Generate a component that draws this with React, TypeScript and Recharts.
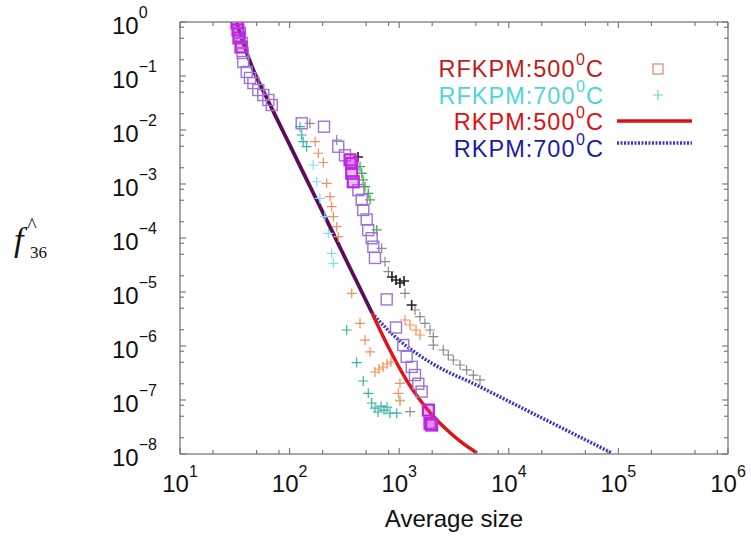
import React from 'react';
import { ComposedChart, Line, Scatter, XAxis, YAxis, Customized } from 'recharts';

const W = 751;
const H = 537;
const PLOT = { left: 180, top: 22, right: 728, bottom: 454 };
const FONT = '"Liberation Sans", Arial, Helvetica, sans-serif';
const SERIF = '"Liberation Serif", "DejaVu Serif", "Times New Roman", serif';

// Axis ticks
const xMajorTicks = [10, 100, 1000, 10000, 100000, 1000000];
const xTickExponents = ['1', '2', '3', '4', '5', '6'];
const yMajorTicks = [1e-8, 1e-7, 1e-6, 1e-5, 1e-4, 1e-3, 1e-2, 1e-1, 1];
const yTickExponents = ['\u22128', '\u22127', '\u22126', '\u22125', '\u22124', '\u22123', '\u22122', '\u22121', '0'];
const minorMultipliers = [2, 5, 8];

// Legend labels
const legendLabels = ['RFKPM:500', 'RFKPM:700', 'RKPM:500', 'RKPM:700'];
const degreeSup = '0';
const degreeUnit = 'C';
const xLabel = 'Average size';

// RKPM curves (500 and 700 coincide at small sizes)
const rkpmShared = [
  { x: 32.9, y: 0.97 }, { x: 37.8, y: 0.404 }, { x: 46.7, y: 0.129 }, { x: 61.2, y: 0.0408 },
  { x: 87.8, y: 0.00918 }, { x: 125.8, y: 0.00206 }, { x: 178.6, y: 4.84e-4 }, { x: 253.7, y: 1.14e-4 },
  { x: 359.5, y: 2.67e-5 }, { x: 456, y: 1.0e-5 }, { x: 565.8, y: 4.08e-6 },
];
const rkpm500Tail = [
  { x: 565.8, y: 4.08e-6 }, { x: 668, y: 1.98e-6 }, { x: 878, y: 6.53e-7 }, { x: 1178, y: 2.25e-7 },
  { x: 1548, y: 1.0e-7 }, { x: 2034, y: 5.06e-8 }, { x: 2673, y: 2.9e-8 }, { x: 3664, y: 1.67e-8 },
  { x: 5128, y: 1.04e-8 },
];
const rkpm700Tail = [
  { x: 565.8, y: 4.08e-6 }, { x: 758, y: 2.15e-6 }, { x: 1017, y: 1.24e-6 }, { x: 1423, y: 7.42e-7 },
  { x: 2034, y: 4.64e-7 }, { x: 2907, y: 3.16e-7 }, { x: 4426, y: 2.16e-7 }, { x: 8313, y: 1.14e-7 },
  { x: 19270, y: 4.84e-8 }, { x: 44630, y: 2.06e-8 }, { x: 87430, y: 1.04e-8 },
];

// RFKPM scatter data
const purpleSquares = [
  { x: 35.3, y: 0.626 }, { x: 36.6, y: 0.408 }, { x: 37.3, y: 0.267 }, { x: 37.8, y: 0.182 },
  { x: 40.6, y: 0.119 }, { x: 43.5, y: 0.092 }, { x: 46.7, y: 0.074 }, { x: 51.8, y: 0.055 },
  { x: 57.5, y: 0.0445 }, { x: 64.0, y: 0.036 }, { x: 68.7, y: 0.029 },
  { x: 129, y: 0.0133 }, { x: 206, y: 0.0115 }, { x: 278, y: 0.0049 }, { x: 320, y: 0.0034 },
  { x: 424, y: 7.7e-4 }, { x: 455, y: 5.1e-4 }, { x: 470, y: 3.3e-4 }, { x: 505, y: 2.2e-4 },
  { x: 522, y: 1.4e-4 }, { x: 561, y: 9.9e-5 }, { x: 581, y: 6.9e-5 }, { x: 601, y: 4.27e-5 },
  { x: 769, y: 7.3e-6 }, { x: 935, y: 2.2e-6 }, { x: 1089, y: 1.04e-6 }, { x: 1170, y: 6.3e-7 },
  { x: 1300, y: 4.1e-7 }, { x: 1393, y: 2.9e-7 }, { x: 1494, y: 2.0e-7 }, { x: 1603, y: 1.43e-7 },
];
const magentaSquares = [
  { x: 33.1, y: 0.957 }, { x: 33.8, y: 0.711 }, { x: 34.5, y: 0.506 }, { x: 36.0, y: 0.344 },
  { x: 356, y: 2.8e-3 }, { x: 369, y: 2.4e-3 }, { x: 369, y: 1.58e-3 }, { x: 381, y: 1.1e-3 },
  { x: 1845, y: 6.5e-8 }, { x: 1910, y: 3.7e-8 }, { x: 1980, y: 3.44e-8 },
];
const tealCrosses = [
  { x: 124.5, y: 0.0115 }, { x: 129, y: 0.00808 }, { x: 133, y: 0.00607 }, { x: 143, y: 0.00491 },
  { x: 332, y: 1.98e-6 }, { x: 409, y: 4.94e-7 }, { x: 470, y: 2.25e-7 }, { x: 522, y: 1.33e-7 },
  { x: 561, y: 8.8e-8 }, { x: 601, y: 7.1e-8 }, { x: 641, y: 6.0e-8 }, { x: 682, y: 7.7e-8 },
  { x: 727, y: 6.5e-8 }, { x: 774, y: 7.4e-8 }, { x: 824, y: 5.7e-8 }, { x: 949, y: 5.7e-8 },
];
const cyanCrosses = [
  { x: 164, y: 0.00225 }, { x: 177, y: 0.0011 }, { x: 189, y: 5.43e-4 }, { x: 210, y: 2.48e-4 },
  { x: 226, y: 1.22e-4 }, { x: 242, y: 5.21e-5 }, { x: 251, y: 3.4e-5 }, { x: 1016, y: 1.0e-7 },
];
const orangeCrosses = [
  { x: 171, y: 0.00607 }, { x: 183, y: 0.00371 }, { x: 203, y: 0.0025 }, { x: 218, y: 0.00103 },
  { x: 234, y: 5.82e-4 }, { x: 242, y: 3.8e-4 }, { x: 251, y: 2.48e-4 }, { x: 269, y: 1.62e-4 },
  { x: 278, y: 1.06e-4 }, { x: 369, y: 9.46e-6 }, { x: 439, y: 2.63e-6 }, { x: 488, y: 1.29e-6 },
  { x: 542, y: 7.8e-7 }, { x: 601, y: 3.3e-7 }, { x: 654, y: 3.75e-7 }, { x: 711, y: 4.08e-7 },
  { x: 774, y: 4.64e-7 }, { x: 841, y: 5.06e-7 }, { x: 982, y: 1.33e-7 }, { x: 1016, y: 2.04e-7 },
  { x: 1016, y: 9.6e-8 }, { x: 1130, y: 3.03e-6 }, { x: 1256, y: 2.45e-6 }, { x: 1423, y: 1.98e-6 },
  { x: 1549, y: 1.6e-6 },
];
const grayCrosses = [
  { x: 153, y: 0.0133 }, { x: 269, y: 0.00653 }, { x: 692, y: 6.45e-5 }, { x: 742, y: 3.64e-5 },
  { x: 796, y: 2.38e-5 }, { x: 1130, y: 9.46e-6 }, { x: 1393, y: 4.64e-6 }, { x: 1549, y: 3.49e-6 },
  { x: 1718, y: 2.63e-6 }, { x: 1910, y: 1.98e-6 }, { x: 2046, y: 1.49e-6 }, { x: 2046, y: 1.04e-6 },
  { x: 2525, y: 8.43e-7 }, { x: 2805, y: 6.81e-7 }, { x: 3118, y: 5.5e-7 }, { x: 3589, y: 4.45e-7 },
  { x: 4130, y: 3.6e-7 }, { x: 4745, y: 2.9e-7 }, { x: 5458, y: 2.35e-7 }, { x: 1256, y: 6.07e-8 },
];
const blackCrosses = [
  { x: 421, y: 0.00316 }, { x: 859, y: 1.9e-5 }, { x: 935, y: 1.67e-5 }, { x: 1016, y: 1.47e-5 },
  { x: 1107, y: 1.6e-5 }, { x: 1300, y: 5.74e-6 },
];
const greenCrosses = [
  { x: 439, y: 0.00209 }, { x: 455, y: 0.00158 }, { x: 468, y: 0.00119 }, { x: 488, y: 8.9e-4 },
  { x: 522, y: 6.7e-4 }, { x: 542, y: 5.1e-4 }, { x: 624, y: 1.41e-4 },
];

const withMinors = (majors: number[]) => {
  const out: number[] = [...majors];
  for (let i = 0; i < majors.length - 1; i++) {
    for (const m of minorMultipliers) out.push(m * majors[i]);
  }
  return out.sort((a, b) => a - b);
};
const xTicks = withMinors(xMajorTicks);
const yTicks = withMinors(yMajorTicks);

const isMajor = (list: number[], v: number) => list.findIndex((m) => Math.abs(v / m - 1) < 1e-6);

const TICK_COLOR = '#7a7a7a';

const XTickBottom = (props: any) => {
  const { x, payload } = props;
  const idx = isMajor(xMajorTicks, payload.value);
  const len = idx >= 0 ? 6 : 4;
  return (
    <g>
      <line x1={x} x2={x} y1={PLOT.bottom} y2={PLOT.bottom - len} stroke={TICK_COLOR} strokeWidth={1.2} />
      {idx >= 0 && (
        <text x={x} y={PLOT.bottom + 38} textAnchor="middle" fontFamily={FONT} fontSize={24} fill="#111">
          10<tspan dy={-15} fontSize={16}>{xTickExponents[idx]}</tspan>
        </text>
      )}
    </g>
  );
};
const XTickTop = (props: any) => {
  const { x, payload } = props;
  const idx = isMajor(xMajorTicks, payload.value);
  const len = idx >= 0 ? 6 : 4;
  return <line x1={x} x2={x} y1={PLOT.top} y2={PLOT.top + len} stroke={TICK_COLOR} strokeWidth={1.2} />;
};
const YTickLeft = (props: any) => {
  const { y, payload } = props;
  const idx = isMajor(yMajorTicks, payload.value);
  const len = idx >= 0 ? 6 : 4;
  return (
    <g>
      <line x1={PLOT.left} x2={PLOT.left + len} y1={y} y2={y} stroke={TICK_COLOR} strokeWidth={1.2} />
      {idx >= 0 && (
        <text x={112} y={y + 12} textAnchor="start" fontFamily={FONT} fontSize={24} fill="#111">
          10<tspan dy={-16} fontSize={16}>{yTickExponents[idx]}</tspan>
        </text>
      )}
    </g>
  );
};
const YTickRight = (props: any) => {
  const { y, payload } = props;
  const idx = isMajor(yMajorTicks, payload.value);
  const len = idx >= 0 ? 6 : 4;
  return <line x1={PLOT.right} x2={PLOT.right - len} y1={y} y2={y} stroke={TICK_COLOR} strokeWidth={1.2} />;
};

const squareShape = (stroke: string, sw: number, fill: string) => (p: any) => (
  <rect x={p.cx - 5.5} y={p.cy - 5.5} width={11} height={11} fill={fill} stroke={stroke} strokeWidth={sw} />
);
const crossShape = (stroke: string, sw: number) => (p: any) => (
  <path d={`M${p.cx - 5},${p.cy}h10M${p.cx},${p.cy - 5}v10`} stroke={stroke} strokeWidth={sw} fill="none" />
);

const Decorations = () => {
  const rowY = [77, 103.5, 130, 156.5];
  const colors = ['#c41a1a', '#4fd6d6', '#e01010', '#1a1aa8'];
  const endX = 603;
  const unitW = 17.5; // width of "C" at 23.5px
  const supW = 10; // width of superscript at 17px
  return (
    <g>
      {/* y label */}
      <text x={14} y={251} fontFamily={SERIF} fontStyle="italic" fontSize={34} fill="#111">f</text>
      <text x={32} y={232} textAnchor="middle" fontFamily={SERIF} fontSize={20} fill="#111">^</text>
      <text x={30} y={258} fontFamily={SERIF} fontSize={17} fill="#111">36</text>
      {/* x label */}
      <text x={(PLOT.left + PLOT.right) / 2} y={527} textAnchor="middle" fontFamily={FONT} fontSize={24} fill="#111">
        {xLabel}
      </text>
      {/* legend */}
      {legendLabels.map((lab, i) => (
        <g key={lab}>
          <text x={endX - unitW - supW} y={rowY[i]} textAnchor="end" fontFamily={FONT} fontSize={23.5} letterSpacing={1} fill={colors[i]}>
            {lab}
          </text>
          <text x={endX - unitW - 0.5} y={rowY[i] - 12} textAnchor="end" fontFamily={FONT} fontSize={16} fill={colors[i]}>
            {degreeSup}
          </text>
          <text x={endX} y={rowY[i]} textAnchor="end" fontFamily={FONT} fontSize={23.5} fill={colors[i]}>
            {degreeUnit}
          </text>
        </g>
      ))}
      <rect x={653} y={64} width={10} height={10} fill="none" stroke="#d48a6c" strokeWidth={1.2} />
      <path d="M653,95h10M658,90v10" stroke="#5fdcdc" strokeWidth={1.2} />
      <line x1={617} x2={692} y1={121} y2={121} stroke="#e01010" strokeWidth={3.5} />
      <line x1={617} x2={692} y1={143} y2={143} stroke="#3a3ac0" strokeWidth={3.5} strokeDasharray="2 1.5" />
    </g>
  );
};

export default function App() {
  return (
    <div style={{ position: 'absolute', left: 0, top: 0, width: W, height: H, background: '#fff' }}>
      <ComposedChart width={W} height={H} margin={{ top: 0, right: 0, bottom: 0, left: 0 }}>
        <XAxis
          xAxisId="b" dataKey="x" type="number" scale="log" domain={[10, 1000000]} allowDataOverflow
          ticks={xTicks} interval={0} tick={XTickBottom} tickLine={false}
          axisLine={{ stroke: '#8a8a8a', strokeWidth: 1.5 }} height={H - PLOT.bottom} orientation="bottom"
        />
        <XAxis
          xAxisId="t" dataKey="x" type="number" scale="log" domain={[10, 1000000]} allowDataOverflow
          ticks={xTicks} interval={0} tick={XTickTop} tickLine={false}
          axisLine={{ stroke: '#8a8a8a', strokeWidth: 1.5 }} height={PLOT.top} orientation="top"
        />
        <YAxis
          yAxisId="l" dataKey="y" type="number" scale="log" domain={[1e-8, 1]} allowDataOverflow
          ticks={yTicks} interval={0} tick={YTickLeft} tickLine={false}
          axisLine={{ stroke: '#8a8a8a', strokeWidth: 1.5 }} width={PLOT.left} orientation="left"
        />
        <YAxis
          yAxisId="r" dataKey="y" type="number" scale="log" domain={[1e-8, 1]} allowDataOverflow
          ticks={yTicks} interval={0} tick={YTickRight} tickLine={false}
          axisLine={{ stroke: '#8a8a8a', strokeWidth: 1.5 }} width={W - PLOT.right} orientation="right"
        />

        <Scatter xAxisId="b" yAxisId="l" data={cyanCrosses} dataKey="y" shape={crossShape('#7fe2ea', 1.2)} isAnimationActive={false} />
        <Scatter xAxisId="b" yAxisId="l" data={tealCrosses} dataKey="y" shape={crossShape('#34b4a4', 1.2)} isAnimationActive={false} />
        <Scatter xAxisId="b" yAxisId="l" data={orangeCrosses} dataKey="y" shape={crossShape('#f3915c', 1.2)} isAnimationActive={false} />
        <Scatter xAxisId="b" yAxisId="l" data={grayCrosses} dataKey="y" shape={crossShape('#8a8a8a', 1.2)} isAnimationActive={false} />
        <Scatter xAxisId="b" yAxisId="l" data={greenCrosses} dataKey="y" shape={crossShape('#3fae4a', 1.3)} isAnimationActive={false} />
        <Scatter xAxisId="b" yAxisId="l" data={blackCrosses} dataKey="y" shape={crossShape('#222', 1.6)} isAnimationActive={false} />
        <Scatter xAxisId="b" yAxisId="l" data={purpleSquares} dataKey="y" shape={squareShape('#9e74d4', 1.4, 'none')} isAnimationActive={false} />

        <Line xAxisId="b" yAxisId="l" data={rkpm700Tail} dataKey="y" type="monotone" dot={false} stroke="#3a3ac0" strokeWidth={3.5} strokeDasharray="2 1.5" isAnimationActive={false} />
        <Line xAxisId="b" yAxisId="l" data={rkpm500Tail} dataKey="y" type="monotone" dot={false} stroke="#e01414" strokeWidth={3.5} isAnimationActive={false} />
        <Line xAxisId="b" yAxisId="l" data={rkpmShared} dataKey="y" type="monotone" dot={false} stroke="#5c0c5c" strokeWidth={3.8} isAnimationActive={false} />

        <Scatter xAxisId="b" yAxisId="l" data={magentaSquares} dataKey="y" shape={squareShape('#c026e0', 2.2, 'rgba(200,60,230,0.35)')} isAnimationActive={false} />

        <Customized component={Decorations} />
      </ComposedChart>
    </div>
  );
}
